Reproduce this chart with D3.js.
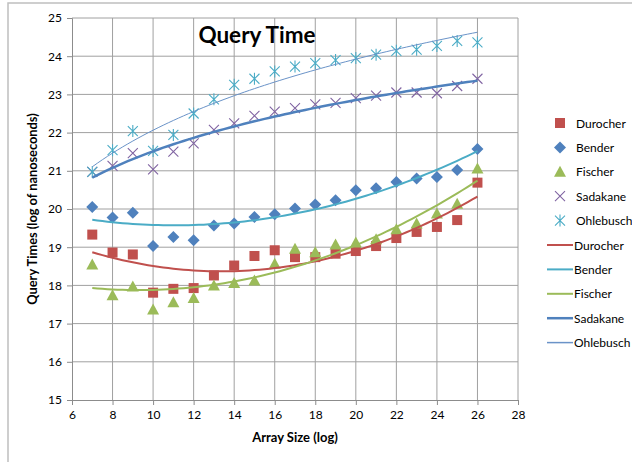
<!DOCTYPE html>
<html>
<head>
<meta charset="utf-8">
<script src="https://cdn.jsdelivr.net/npm/d3@7"></script>
<style>
  body { margin: 0; background: #fff; }
  text { font-family: Lato, "Open Sans", sans-serif; fill: #000; }
</style>
</head>
<body>
<svg id="chart" width="632" height="462"></svg>
<script>
// array sizes (log)
const sizes = [7, 8, 9, 10, 11, 12, 13, 14, 15, 16, 17, 18, 19, 20, 21, 22, 23, 24, 25, 26];

const durocher = [19.33, 18.86, 18.81, 17.81, 17.91, 17.93, 18.26, 18.52, 18.77, 18.92,
                  18.74, 18.74, 18.83, 18.90, 19.03, 19.24, 19.40, 19.53, 19.71, 20.69];
const bender = [20.05, 19.78, 19.90, 19.03, 19.27, 19.18, 19.57, 19.62, 19.79, 19.86,
                20.01, 20.12, 20.23, 20.49, 20.54, 20.71, 20.80, 20.84, 21.02, 21.57];
const fischer = [18.55, 17.74, 17.97, 17.37, 17.56, 17.67, 18.00, 18.06, 18.13, 18.57,
                 18.96, 18.87, 19.07, 19.12, 19.21, 19.47, 19.62, 19.88, 20.14, 21.06];
const sadakane = [20.97, 21.13, 21.46, 21.04, 21.50, 21.72, 22.07, 22.24, 22.44, 22.55,
                  22.64, 22.74, 22.78, 22.90, 22.97, 23.05, 23.05, 23.03, 23.22, 23.41];
const ohlebusch = [20.97, 21.54, 22.04, 21.52, 21.94, 22.50, 22.87, 23.25, 23.41, 23.60,
                   23.73, 23.82, 23.90, 23.95, 24.04, 24.14, 24.17, 24.27, 24.40, 24.36];

const xTicks = [6, 8, 10, 12, 14, 16, 18, 20, 22, 24, 26, 28];
const yTicks = [15, 16, 17, 18, 19, 20, 21, 22, 23, 24, 25];

const series = [
  {name: "Durocher", values: durocher, shape: "square", color: "#C0504D", line: "#C0504D", lw: 2, fit: "poly"},
  {name: "Bender", values: bender, shape: "diamond", color: "#4F81BD", line: "#4BACC6", lw: 2, fit: "poly"},
  {name: "Fischer", values: fischer, shape: "triangle", color: "#9BBB59", line: "#9BBB59", lw: 2, fit: "poly"},
  {name: "Sadakane", values: sadakane, shape: "x", color: "#8064A2", line: "#4F81BD", lw: 2.5, fit: "log"},
  {name: "Ohlebusch", values: ohlebusch, shape: "star", color: "#4BACC6", line: "#6A93C8", lw: 1, fit: "log"}
];

const svg = d3.select("#chart");

// chart frame
svg.append("rect")
   .attr("x", 8).attr("y", 3)
   .attr("width", 700).attr("height", 500)
   .attr("fill", "none")
   .attr("stroke", "#BFBFBF")
   .attr("stroke-width", 1.5);

const x = d3.scaleLinear().domain([6, 28]).range([72, 518]);
const y = d3.scaleLinear().domain([15, 25]).range([400, 18]);

// gridlines
svg.append("g").selectAll("line")
   .data(yTicks.slice(1))
   .join("line")
   .attr("x1", x(6)).attr("x2", x(28))
   .attr("y1", d => y(d)).attr("y2", d => y(d))
   .attr("stroke", "#A0A0A0");
svg.append("g").selectAll("line")
   .data(xTicks.slice(1))
   .join("line")
   .attr("x1", d => x(d)).attr("x2", d => x(d))
   .attr("y1", y(15)).attr("y2", y(25))
   .attr("stroke", "#A0A0A0");

// axes
const xAxis = svg.append("g")
   .attr("transform", `translate(0,${y(15)})`)
   .call(d3.axisBottom(x).tickValues(xTicks).tickSize(5).tickPadding(5));
const yAxis = svg.append("g")
   .attr("transform", `translate(${x(6)},0)`)
   .call(d3.axisLeft(y).tickValues(yTicks).tickSize(5).tickPadding(5));
[xAxis, yAxis].forEach(a => {
  a.select(".domain").attr("stroke", "#8C8C8C");
  a.selectAll(".tick line").attr("stroke", "#8C8C8C");
  a.selectAll(".tick text")
   .attr("font-family", "Lato, sans-serif")
   .attr("font-size", 12)
   .attr("fill", "#000");
});

// trendlines (least squares)
function polyFit(xs, ys) {
  // quadratic via normal equations
  let s = [0, 0, 0, 0, 0], t = [0, 0, 0];
  xs.forEach((xv, i) => {
    for (let k = 0; k < 5; k++) s[k] += Math.pow(xv, k);
    for (let k = 0; k < 3; k++) t[k] += ys[i] * Math.pow(xv, k);
  });
  const A = [[s[0], s[1], s[2], t[0]], [s[1], s[2], s[3], t[1]], [s[2], s[3], s[4], t[2]]];
  for (let i = 0; i < 3; i++) {
    for (let j = i + 1; j < 3; j++) {
      const f = A[j][i] / A[i][i];
      for (let k = i; k < 4; k++) A[j][k] -= f * A[i][k];
    }
  }
  const c = [0, 0, 0];
  for (let i = 2; i >= 0; i--) {
    let v = A[i][3];
    for (let k = i + 1; k < 3; k++) v -= A[i][k] * c[k];
    c[i] = v / A[i][i];
  }
  return xv => c[0] + c[1] * xv + c[2] * xv * xv;
}
function logFit(xs, ys) {
  const lx = xs.map(Math.log);
  const mx = d3.mean(lx), my = d3.mean(ys);
  const b = d3.sum(lx, (l, i) => (l - mx) * (ys[i] - my)) / d3.sum(lx, l => (l - mx) ** 2);
  const a = my - b * mx;
  return xv => a + b * Math.log(xv);
}

const curveXs = d3.range(7, 26.01, 0.25);
const line = d3.line().x(d => x(d[0])).y(d => y(d[1]));

// markers
function marker(sel, shape, color) {
  if (shape === "square") {
    sel.append("rect").attr("x", -5).attr("y", -5).attr("width", 10).attr("height", 10).attr("fill", color);
  } else if (shape === "diamond") {
    sel.append("path").attr("d", "M0,-6L6,0L0,6L-6,0Z").attr("fill", color);
  } else if (shape === "triangle") {
    sel.append("path").attr("d", "M0,-6L6,5L-6,5Z").attr("fill", color);
  } else if (shape === "x") {
    sel.append("path").attr("d", "M-5,-5L5,5M-5,5L5,-5").attr("stroke", color).attr("stroke-width", 1.1).attr("fill", "none");
  } else {
    sel.append("path").attr("d", "M-5,-5L5,5M-5,5L5,-5M0,-6L0,6").attr("stroke", color).attr("stroke-width", 1.1).attr("fill", "none");
  }
}

series.forEach(s => {
  const g = svg.append("g");
  g.selectAll("g")
   .data(sizes.map((xv, i) => [xv, s.values[i]]))
   .join("g")
   .attr("transform", d => `translate(${x(d[0])},${y(d[1])})`)
   .each(function() { marker(d3.select(this), s.shape, s.color); });
});

series.forEach(s => {
  const f = s.fit === "poly" ? polyFit(sizes, s.values) : logFit(sizes, s.values);
  svg.append("path")
     .datum(curveXs.map(xv => [xv, f(xv)]))
     .attr("d", line)
     .attr("fill", "none")
     .attr("stroke", s.line)
     .attr("stroke-width", s.lw);
});

// title and axis titles
svg.append("text")
   .attr("x", 257).attr("y", 43)
   .attr("text-anchor", "middle")
   .attr("font-size", 22.5).attr("font-weight", "bold")
   .text("Query Time");
svg.append("text")
   .attr("x", 295).attr("y", 442)
   .attr("text-anchor", "middle")
   .attr("font-size", 13).attr("font-weight", "bold")
   .text("Array Size (log)");
svg.append("text")
   .attr("transform", `translate(37,${y(20)}) rotate(-90)`)
   .attr("text-anchor", "middle")
   .attr("font-size", 12.8).attr("font-weight", "bold")
   .text("Query Times (log of nanoseconds)");

// legend
const legend = svg.append("g");
series.forEach((s, i) => {
  const g = legend.append("g").attr("transform", `translate(560,${123 + i * 24.4})`);
  marker(g, s.shape, s.color);
  g.append("text").attr("x", 16).attr("y", 4.5).attr("font-size", 12).text(s.name);
});
series.forEach((s, i) => {
  const g = legend.append("g").attr("transform", `translate(560,${245 + i * 24.4})`);
  g.append("line").attr("x1", -13).attr("x2", 13).attr("stroke", s.line).attr("stroke-width", s.lw === 1 ? 1.5 : s.lw);
  g.append("text").attr("x", 14).attr("y", 4.5).attr("font-size", 12).text(s.name);
});
</script>
</body>
</html>
